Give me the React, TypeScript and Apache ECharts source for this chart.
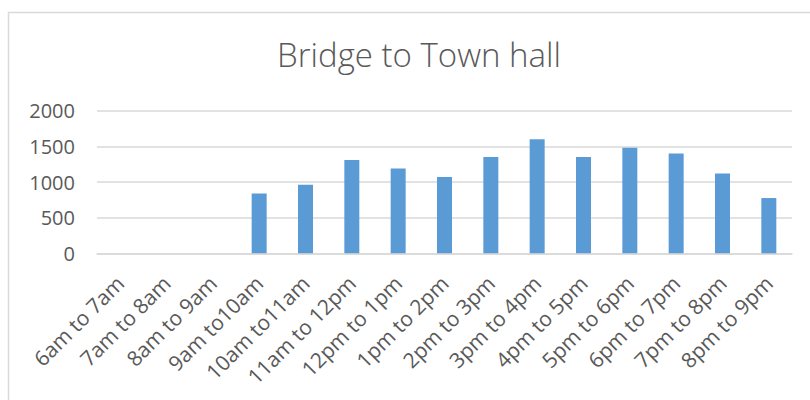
import React, { useEffect, useRef } from "react";
import * as echarts from "echarts";

const categories = [
  "6am to 7am", "7am to 8am", "8am to 9am", "9am to10am", "10am to11am",
  "11am to 12pm", "12pm to 1pm", "1pm to 2pm", "2pm to 3pm", "3pm to 4pm",
  "4pm to 5pm", "5pm to 6pm", "6pm to 7pm", "7pm to 8pm", "8pm to 9pm",
];
const counts = [0, 0, 0, 840, 960, 1310, 1190, 1070, 1350, 1600, 1350, 1480, 1400, 1120, 775];
const yTicks = { min: 0, max: 2000, interval: 500 };
const titleText = "Bridge to Town hall";

export default function App() {
  const ref = useRef<HTMLDivElement>(null);
  useEffect(() => {
    const chart = echarts.init(ref.current!, null, { renderer: "svg" });
    const font = "'Open Sans', 'Noto Sans', sans-serif";
    chart.setOption({
      animation: false,
      backgroundColor: "#ffffff",
      title: {
        text: titleText,
        left: 414,
        top: 33,
        textAlign: "center",
        textStyle: { fontFamily: font, fontSize: 33, fontWeight: 300, color: "#595959" },
      },
      graphic: [
        { type: "line", shape: { x1: 8, y1: 12.5, x2: 810, y2: 12.5 }, style: { stroke: "#d9d9d9", lineWidth: 1.5 } },
        { type: "line", shape: { x1: 8.5, y1: 12, x2: 8.5, y2: 400 }, style: { stroke: "#d9d9d9", lineWidth: 1.5 } },
      ],
      grid: { left: 97, right: 18, top: 110.7, bottom: 400 - 253.3, containLabel: false },
      xAxis: {
        type: "category",
        data: categories,
        axisLine: { lineStyle: { color: "#d9d9d9", width: 1.5 } },
        axisTick: { show: false },
        axisLabel: {
          interval: 0,
          rotate: 45,
          margin: 26,
          verticalAlign: "middle",
          fontFamily: font,
          fontSize: 21,
          color: "#595959",
        },
      },
      yAxis: {
        type: "value",
        min: yTicks.min,
        max: yTicks.max,
        interval: yTicks.interval,
        axisLine: { show: false },
        axisTick: { show: false },
        splitLine: { lineStyle: { color: "#d9d9d9", width: 1.5 } },
        axisLabel: {
          margin: 22,
          fontFamily: font,
          fontSize: 20,
          color: "#595959",
          formatter: (v: number) => String(v),
        },
      },
      series: [
        {
          type: "bar",
          data: counts,
          barWidth: 15,
          itemStyle: { color: "#5b9bd5" },
        },
      ],
    });
    return () => chart.dispose();
  }, []);
  return (
    <div
      ref={ref}
      style={{ position: "fixed", left: 0, top: 0, width: 810, height: 400 }}
    />
  );
}
